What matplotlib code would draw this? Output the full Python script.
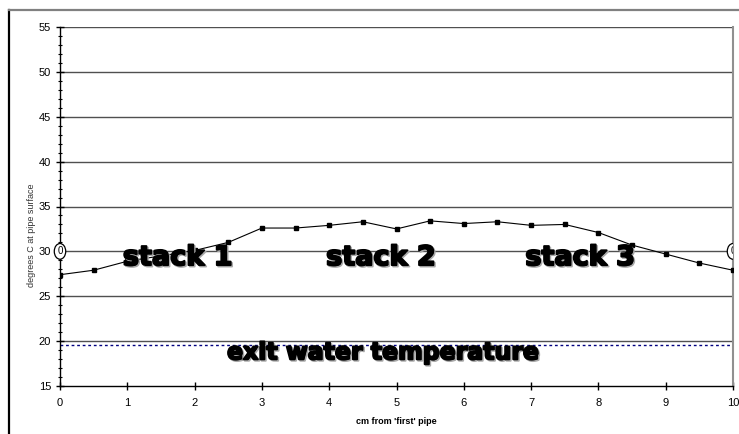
import matplotlib
matplotlib.use("Agg")
import matplotlib.pyplot as plt
import matplotlib.patheffects as pe
from matplotlib.patches import Ellipse
from matplotlib.lines import Line2D
import numpy as np

# ---- data ----
x_cm = [0, 0.5, 1, 1.5, 2, 2.5, 3, 3.5, 4, 4.5, 5, 5.5, 6, 6.5, 7, 7.5, 8, 8.5, 9, 9.5, 10]
temp = [27.4, 27.9, 28.9, 29.5, 30.1, 31.0, 32.6, 32.6, 32.9, 33.3, 32.5, 33.4, 33.1, 33.3, 32.9, 33.0, 32.1, 30.7, 29.7, 28.7, 27.9]
exit_water_temp = 19.6
ref_x = [0, 10]
ref_y = [30, 30]
ref_label = "0"
stack_labels = ["stack 1", "stack 2", "stack 3"]
stack_x = [1.75, 4.77, 7.73]
stack_y = [29.25, 29.25, 29.25]
exit_label = "exit water temperature"
exit_label_pos = (4.8, 18.75)
x_ticks = list(range(0, 11))
y_ticks = list(range(15, 56, 5))
x_label = "cm from 'first' pipe"
y_label = "degrees C at pipe surface"

plt.rcParams['font.family'] = ['Liberation Sans', 'DejaVu Sans']

fig = plt.figure(figsize=(7.39, 4.34), dpi=100)
ax = fig.add_axes([60/739, 1-386/434, (733-60)/739, (386-27)/434])

ax.set_xlim(0, 10)
ax.set_ylim(15, 55)

for yv in y_ticks[1:]:
    ax.axhline(yv, color='#505050', lw=1.0, zorder=1)

ax.axhline(exit_water_temp, color='#000080', lw=1.0, ls=(0, (2, 2)), zorder=2)

ax.plot(x_cm, temp, color='black', lw=0.8, marker='s', markersize=3.5,
        markerfacecolor='black', markeredgecolor='black', zorder=4)

# circled reference markers
for xr, yr in zip(ref_x, ref_y):
    clip = (xr == 10)
    e = Ellipse((xr, yr), width=0.17, height=1.75, facecolor='white',
                edgecolor='black', lw=0.9, zorder=5, clip_on=clip)
    ax.add_patch(e)
    ax.text(xr, yr, ref_label, ha='center', va='center', fontsize=7,
            zorder=6, clip_on=clip)

effects = [pe.Stroke(linewidth=1.4, foreground='#a8a8a8', offset=(1.0, -1.0)),
           pe.Stroke(linewidth=1.4, foreground='black'), pe.Normal()]

for lbl, sx, sy in zip(stack_labels, stack_x, stack_y):
    ax.text(sx, sy, lbl, ha='center', va='center', fontsize=19.5,
            fontweight='bold', family='DejaVu Sans', color='black',
            path_effects=effects, zorder=7)

ax.text(exit_label_pos[0], exit_label_pos[1], exit_label, ha='center', va='center',
        fontsize=17, fontweight='bold', family='DejaVu Sans', color='black',
        path_effects=effects, zorder=7)

ax.set_xticks(x_ticks)
ax.set_yticks(y_ticks)
ax.set_yticks(np.arange(15, 56, 1), minor=True)
ax.tick_params(axis='both', which='major', direction='inout', length=6, width=1,
               labelsize=8, color='black')
ax.tick_params(axis='x', which='major', pad=6)
ax.tick_params(axis='y', which='minor', direction='inout', length=3, width=0.8)

ax.spines['top'].set_visible(False)
ax.spines['right'].set_color('#909090')
ax.spines['right'].set_linewidth(1.5)
ax.spines['left'].set_linewidth(1.0)
ax.spines['bottom'].set_linewidth(1.0)

ax.set_xlabel(x_label, fontsize=6.5, fontweight='bold', labelpad=6)
ax.text(-0.043, 0.42, y_label, transform=ax.transAxes, rotation=90,
        ha='center', va='center', fontsize=6.5, color='#333333')

# outer frame (partial)
fig.add_artist(Line2D([8.5/739, 8.5/739], [0, 1-10/434], transform=fig.transFigure,
                      color='black', lw=1.6))
fig.add_artist(Line2D([8.5/739, 1], [1-10/434, 1-10/434], transform=fig.transFigure,
                      color='#808080', lw=1.6))

fig.savefig('out.png', dpi=100)
